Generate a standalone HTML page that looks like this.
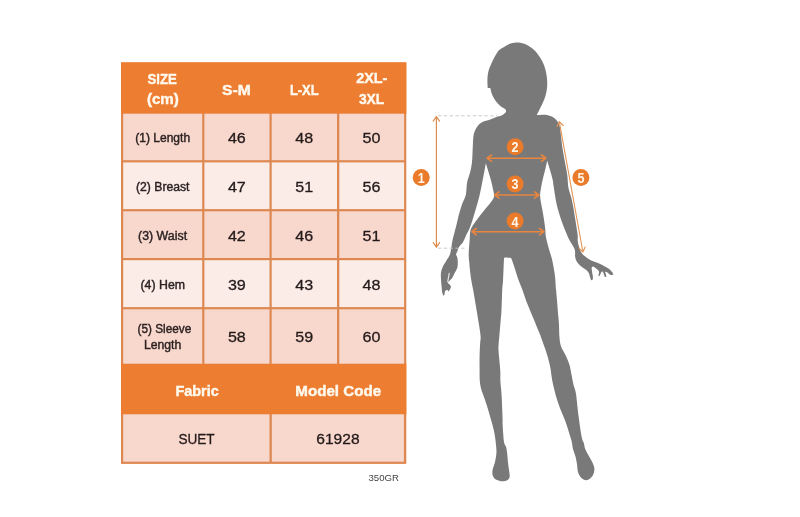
<!DOCTYPE html>
<html lang="en"><head><meta charset="utf-8"><title>Size Chart</title>
<style>html,body{margin:0;padding:0;background:#fff}body{width:800px;height:517px;overflow:hidden}svg{display:block}text{font-family:"Liberation Sans",Arial,sans-serif}.h{font-weight:700;fill:#FFF8EC;stroke:#FFF8EC;stroke-width:.45}.l{fill:#2b2222;stroke:#2b2222;stroke-width:.4}.n{fill:#231a1a;stroke:#231a1a;stroke-width:.3}</style></head><body>
<svg width="800" height="517" viewBox="0 0 800 517">
<rect width="800" height="517" fill="#fff"/>
<rect x="121" y="62.4" width="285.3" height="401.5" fill="#DD8850"/>
<rect x="121" y="62.4" width="285.3" height="51.3" fill="#ED7D31"/>
<rect x="121" y="363.7" width="285.3" height="50.6" fill="#ED7D31"/>
<rect x="123.2" y="113.7" width="79.0" height="46.5" fill="#F8D7CD"/>
<rect x="204.4" y="113.7" width="65.1" height="46.5" fill="#F8D7CD"/>
<rect x="271.7" y="113.7" width="65.3" height="46.5" fill="#F8D7CD"/>
<rect x="339.3" y="113.7" width="64.8" height="46.5" fill="#F8D7CD"/>
<rect x="123.2" y="162.4" width="79.0" height="46.7" fill="#FCECE8"/>
<rect x="204.4" y="162.4" width="65.1" height="46.7" fill="#FCECE8"/>
<rect x="271.7" y="162.4" width="65.3" height="46.7" fill="#FCECE8"/>
<rect x="339.3" y="162.4" width="64.8" height="46.7" fill="#FCECE8"/>
<rect x="123.2" y="211.3" width="79.0" height="46.7" fill="#F8D7CD"/>
<rect x="204.4" y="211.3" width="65.1" height="46.7" fill="#F8D7CD"/>
<rect x="271.7" y="211.3" width="65.3" height="46.7" fill="#F8D7CD"/>
<rect x="339.3" y="211.3" width="64.8" height="46.7" fill="#F8D7CD"/>
<rect x="123.2" y="260.2" width="79.0" height="46.9" fill="#FCECE8"/>
<rect x="204.4" y="260.2" width="65.1" height="46.9" fill="#FCECE8"/>
<rect x="271.7" y="260.2" width="65.3" height="46.9" fill="#FCECE8"/>
<rect x="339.3" y="260.2" width="64.8" height="46.9" fill="#FCECE8"/>
<rect x="123.2" y="309.3" width="79.0" height="54.4" fill="#F8D7CD"/>
<rect x="204.4" y="309.3" width="65.1" height="54.4" fill="#F8D7CD"/>
<rect x="271.7" y="309.3" width="65.3" height="54.4" fill="#F8D7CD"/>
<rect x="339.3" y="309.3" width="64.8" height="54.4" fill="#F8D7CD"/>
<rect x="123.2" y="414.3" width="146.3" height="47.4" fill="#F8D7CD"/>
<rect x="271.8" y="414.3" width="132.1" height="47.4" fill="#F8D7CD"/>
<text class="h" x="147.5" y="83.5" font-size="15.5" textLength="29.3" lengthAdjust="spacingAndGlyphs">SIZE</text>
<text class="h" x="146.9" y="104" font-size="15.5" textLength="32.0" lengthAdjust="spacingAndGlyphs">(cm)</text>
<text class="h" x="222.1" y="94.6" font-size="15.5" textLength="28.7" lengthAdjust="spacingAndGlyphs">S-M</text>
<text class="h" x="289.9" y="94.6" font-size="15.5" textLength="28.7" lengthAdjust="spacingAndGlyphs">L-XL</text>
<text class="h" x="356.2" y="83.4" font-size="15.5" textLength="31.2" lengthAdjust="spacingAndGlyphs">2XL-</text>
<text class="h" x="358.9" y="103.8" font-size="15.5" textLength="25.4" lengthAdjust="spacingAndGlyphs">3XL</text>
<text class="l" x="135.2" y="141.5" font-size="12" textLength="54.9" lengthAdjust="spacingAndGlyphs">(1) Length</text>
<text class="l" x="136.0" y="190.7" font-size="12" textLength="53.5" lengthAdjust="spacingAndGlyphs">(2) Breast</text>
<text class="l" x="138.0" y="239.8" font-size="12" textLength="49.1" lengthAdjust="spacingAndGlyphs">(3) Waist</text>
<text class="l" x="140.5" y="288.5" font-size="12" textLength="44.5" lengthAdjust="spacingAndGlyphs">(4) Hem</text>
<text class="l" x="137.5" y="333.4" font-size="12" textLength="53.8" lengthAdjust="spacingAndGlyphs">(5) Sleeve</text>
<text class="l" x="143.9" y="348.8" font-size="12" textLength="37.4" lengthAdjust="spacingAndGlyphs">Length</text>
<text class="n" x="227.9" y="142.7" font-size="15.5" textLength="17.9" lengthAdjust="spacingAndGlyphs">46</text>
<text class="n" x="295.2" y="142.7" font-size="15.5" textLength="17.9" lengthAdjust="spacingAndGlyphs">48</text>
<text class="n" x="362.6" y="142.7" font-size="15.5" textLength="17.9" lengthAdjust="spacingAndGlyphs">50</text>
<text class="n" x="227.9" y="191.6" font-size="15.5" textLength="17.9" lengthAdjust="spacingAndGlyphs">47</text>
<text class="n" x="295.2" y="191.6" font-size="15.5" textLength="17.9" lengthAdjust="spacingAndGlyphs">51</text>
<text class="n" x="362.6" y="191.6" font-size="15.5" textLength="17.9" lengthAdjust="spacingAndGlyphs">56</text>
<text class="n" x="227.9" y="240.9" font-size="15.5" textLength="17.9" lengthAdjust="spacingAndGlyphs">42</text>
<text class="n" x="295.2" y="240.9" font-size="15.5" textLength="17.9" lengthAdjust="spacingAndGlyphs">46</text>
<text class="n" x="362.6" y="240.9" font-size="15.5" textLength="17.9" lengthAdjust="spacingAndGlyphs">51</text>
<text class="n" x="227.9" y="289.9" font-size="15.5" textLength="17.9" lengthAdjust="spacingAndGlyphs">39</text>
<text class="n" x="295.2" y="289.9" font-size="15.5" textLength="17.9" lengthAdjust="spacingAndGlyphs">43</text>
<text class="n" x="362.6" y="289.9" font-size="15.5" textLength="17.9" lengthAdjust="spacingAndGlyphs">48</text>
<text class="n" x="227.9" y="342" font-size="15.5" textLength="17.9" lengthAdjust="spacingAndGlyphs">58</text>
<text class="n" x="295.2" y="342" font-size="15.5" textLength="17.9" lengthAdjust="spacingAndGlyphs">59</text>
<text class="n" x="362.6" y="342" font-size="15.5" textLength="17.9" lengthAdjust="spacingAndGlyphs">60</text>
<text class="h" x="175.4" y="395.6" font-size="15.5" textLength="43.4" lengthAdjust="spacingAndGlyphs">Fabric</text>
<text class="h" x="295.3" y="395.6" font-size="15.5" textLength="85.9" lengthAdjust="spacingAndGlyphs">Model Code</text>
<text class="n" x="178.4" y="444" font-size="15.2" textLength="36.3" lengthAdjust="spacingAndGlyphs">SUET</text>
<text class="n" x="316.3" y="444.2" font-size="15.2" textLength="43.3" lengthAdjust="spacingAndGlyphs">61928</text>
<text x="368.5" y="480.5" font-size="9" fill="#444" textLength="30.5" lengthAdjust="spacingAndGlyphs">350GR</text>
<path d="M504.8 46.4C506.9 45.2 509.0 43.8 511.6 43.2C514.2 42.5 517.5 42.4 520.3 42.8C523.0 43.2 525.5 44.1 528.0 45.5C530.5 46.9 533.1 48.9 535.4 51.3C537.6 53.7 539.9 57.1 541.6 60.0C543.2 62.9 544.3 65.6 545.2 68.7C546.1 71.7 546.7 75.1 547.0 78.4C547.3 81.6 547.3 85.0 547.0 88.0C546.7 91.1 546.1 94.0 545.2 96.7C544.4 99.5 543.0 102.1 542.0 104.5C540.9 106.9 539.5 109.5 538.7 111.2C537.8 113.0 536.7 115.1 536.7 115.1C536.7 115.1 542.6 114.4 545.1 114.7C547.7 114.9 550.0 115.6 551.9 116.6C553.8 117.6 555.5 118.9 556.8 120.5C558.0 122.1 558.9 123.7 559.7 126.3C560.4 128.9 560.6 132.4 561.0 135.9C561.5 139.5 561.7 143.4 562.4 147.6C563.0 151.7 563.9 156.6 564.7 161.1C565.5 165.6 566.6 170.2 567.2 174.6C567.8 179.0 567.8 183.9 568.4 187.5C569.0 191.2 570.1 193.4 570.9 196.3C571.6 199.3 572.3 202.0 572.9 205.1C573.5 208.3 574.1 211.8 574.6 215.2C575.2 218.5 575.7 221.9 576.2 225.2C576.7 228.6 577.4 232.6 577.7 235.3C577.9 238.0 577.5 239.3 577.8 241.4C578.0 243.5 578.8 246.0 579.4 247.8C579.9 249.5 580.2 250.8 581.0 252.0C581.7 253.3 582.5 254.1 583.6 255.2C584.8 256.3 586.2 257.3 587.9 258.4C589.6 259.5 591.8 260.7 593.7 261.6C595.7 262.5 597.7 262.9 599.6 263.7C601.4 264.5 603.3 265.5 604.9 266.4C606.5 267.3 607.9 268.1 609.1 269.0C610.4 270.0 611.6 271.3 612.3 272.2C613.0 273.1 613.4 274.4 613.4 274.4C613.4 274.4 611.8 275.2 610.7 274.9C609.7 274.5 608.0 272.8 607.0 272.2C606.0 271.7 604.9 271.7 604.9 271.7C604.9 271.7 605.7 273.5 606.0 274.4C606.2 275.2 606.3 277.0 606.3 277.0C606.3 277.0 604.9 277.0 604.9 277.0C604.9 277.0 603.4 272.5 602.8 271.7C602.1 270.9 601.2 272.2 601.2 272.2C601.2 272.2 599.6 276.0 599.6 276.0C599.6 276.0 598.2 275.4 598.2 275.4C598.2 275.4 599.3 272.8 599.0 271.7C598.8 270.6 597.9 269.9 596.9 269.0C595.9 268.2 594.1 266.6 593.2 266.4C592.3 266.2 591.6 268.0 591.6 268.0C591.6 268.0 591.9 270.8 592.1 272.2C592.3 273.7 592.8 275.2 592.9 276.5C593.0 277.7 592.7 279.7 592.7 279.7C592.7 279.7 591.1 280.2 591.1 280.2C591.1 280.2 590.4 278.2 590.0 277.0C589.6 275.9 589.6 274.5 588.9 273.3C588.3 272.1 587.3 271.1 586.3 270.1C585.2 269.1 583.8 268.4 582.6 267.4C581.3 266.5 579.9 265.4 578.8 264.3C577.8 263.1 576.8 261.9 576.2 260.5C575.5 259.2 575.3 257.7 575.1 256.3C574.9 254.9 575.3 253.4 575.1 252.0C574.9 250.6 575.0 249.7 574.0 247.8C573.1 245.8 571.0 243.2 569.5 240.3C568.0 237.4 566.5 233.6 565.1 230.3C563.7 226.9 562.5 223.6 561.3 220.2C560.2 216.9 559.1 213.3 558.2 210.2C557.3 207.0 556.8 204.9 556.1 201.4C555.4 197.8 554.6 192.4 554.0 188.7C553.4 185.0 553.2 182.2 552.5 179.0C551.8 175.8 550.6 172.4 549.8 169.3C548.9 166.3 547.2 160.6 547.2 160.6C547.2 160.6 546.1 166.3 545.3 169.3C544.6 172.4 543.5 175.8 542.8 179.0C542.1 182.2 541.3 185.9 540.9 188.7C540.4 191.4 540.1 193.2 540.1 195.5C540.1 197.7 540.5 199.8 540.9 202.2C541.2 204.6 541.9 207.1 542.4 210.0C542.9 212.9 543.5 216.4 544.0 219.6C544.4 222.9 545.0 226.4 545.3 229.3C545.6 232.2 545.3 233.7 545.9 237.0C546.5 240.3 548.0 245.5 549.0 249.2C550.0 252.8 551.1 255.6 551.9 258.8C552.7 262.1 553.3 265.3 553.8 268.5C554.4 271.7 554.9 274.9 555.2 278.2C555.5 281.4 555.6 285.9 555.8 287.8C555.9 289.8 555.9 287.7 556.1 290.0C556.3 292.3 556.8 297.7 557.1 301.6C557.4 305.5 557.7 309.3 558.0 313.2C558.4 317.1 558.8 320.9 559.0 324.8C559.2 328.7 559.1 332.9 559.4 336.4C559.7 340.0 559.9 342.9 560.9 346.1C562.0 349.3 564.3 352.5 565.8 355.8C567.2 359.0 568.7 362.2 569.7 365.4C570.6 368.7 570.9 371.9 571.6 375.1C572.2 378.3 572.8 381.8 573.5 384.8C574.2 387.7 575.3 389.8 575.8 392.7C576.4 395.7 576.6 399.2 577.0 402.4C577.4 405.6 577.6 408.9 578.0 412.1C578.4 415.3 578.9 418.5 579.3 421.8C579.8 425.0 580.2 428.5 580.7 431.4C581.2 434.3 581.7 437.2 582.2 439.2C582.7 441.1 583.3 441.4 583.8 443.0C584.3 444.6 584.4 446.9 585.1 448.8C585.8 450.8 586.9 452.5 588.0 454.6C589.2 456.7 590.9 459.3 591.9 461.4C592.9 463.5 593.9 465.3 594.2 467.2C594.5 469.1 594.4 471.2 593.8 473.0C593.3 474.8 592.2 476.7 590.9 477.8C589.6 479.0 587.7 480.2 586.1 480.2C584.5 480.2 582.6 479.2 581.3 477.8C579.9 476.5 578.7 474.3 578.0 472.0C577.3 469.8 577.4 466.9 577.0 464.3C576.6 461.7 576.1 459.1 575.5 456.6C574.8 454.0 573.6 451.4 572.9 448.8C572.3 446.3 572.3 444.0 571.6 441.1C570.9 438.2 569.8 435.0 568.7 431.4C567.6 427.9 566.3 423.7 564.8 419.8C563.4 415.9 561.4 412.1 560.0 408.2C558.5 404.3 557.2 400.5 556.1 396.6C555.0 392.7 554.0 388.3 553.2 385.0C552.5 381.7 552.1 380.0 551.7 377.0C551.2 374.1 551.0 370.9 550.3 367.4C549.6 363.8 548.5 359.6 547.4 355.8C546.3 351.9 545.0 348.2 543.5 344.2C542.1 340.1 540.3 335.8 538.7 331.6C537.1 327.4 533.5 318.2 533.9 319.0C534.2 319.8 540.5 335.5 540.9 336.4C541.3 337.4 537.7 328.7 536.1 324.8C534.5 320.9 532.8 317.1 531.2 313.2C529.6 309.3 527.9 305.5 526.4 301.6C525.0 297.7 523.9 293.6 522.5 290.0C521.2 286.4 519.8 283.5 518.5 280.0C517.2 276.5 516.1 272.5 515.0 269.0C513.9 265.5 512.4 261.1 511.6 259.2C510.9 257.3 510.5 257.9 510.5 257.9C510.5 257.9 505.0 257.6 505.0 257.6C505.0 257.6 504.2 256.9 504.0 259.0C503.8 261.1 503.7 266.3 503.5 270.0C503.3 273.7 503.2 277.7 503.0 281.0C502.8 284.3 502.4 286.6 502.2 290.0C502.0 293.4 502.0 297.7 501.8 301.6C501.7 305.5 501.5 309.3 501.3 313.2C501.0 317.1 500.6 320.9 500.3 324.8C500.0 328.7 499.6 332.6 499.3 336.4C499.0 340.3 498.4 344.2 498.4 348.0C498.4 351.9 499.0 355.8 499.3 359.6C499.6 363.5 500.1 367.7 500.3 371.2C500.5 374.8 500.2 377.3 500.4 381.1C500.6 384.8 501.2 389.6 501.5 393.8C501.8 398.1 502.0 402.3 502.1 406.6C502.3 410.9 502.5 416.5 502.6 419.4C502.6 422.2 502.5 421.4 502.6 423.7C502.7 426.0 502.9 430.1 503.2 433.4C503.4 436.6 503.7 440.8 504.2 443.0C504.6 445.3 505.6 445.3 506.1 446.9C506.6 448.5 506.7 450.1 507.1 452.7C507.4 455.3 507.7 459.5 508.0 462.4C508.3 465.3 508.7 467.7 509.0 470.1C509.3 472.5 509.9 475.2 509.6 476.9C509.3 478.6 508.3 479.4 507.1 480.2C505.8 480.9 504.0 481.4 502.2 481.3C500.5 481.3 498.0 480.7 496.4 479.8C494.9 478.9 493.6 477.5 492.9 475.9C492.3 474.3 492.2 472.4 492.6 470.1C492.9 467.8 494.2 465.3 494.9 462.4C495.5 459.5 496.3 455.9 496.4 452.7C496.6 449.5 496.2 446.6 495.8 443.0C495.5 439.5 494.9 435.3 494.1 431.4C493.3 427.6 492.1 423.7 491.0 419.8C489.9 415.9 488.9 412.1 487.7 408.2C486.5 404.3 484.9 399.7 483.8 396.6C482.8 393.5 482.0 392.2 481.3 389.6C480.6 387.0 480.1 384.6 479.8 381.1C479.5 377.5 479.6 372.6 479.6 368.3C479.5 364.0 479.5 359.8 479.6 355.5C479.7 351.3 480.0 346.0 480.2 342.8C480.4 339.6 480.8 339.4 480.6 336.4C480.4 333.4 479.6 328.7 479.0 324.8C478.4 320.9 477.7 317.1 477.1 313.2C476.4 309.3 475.8 305.5 475.1 301.6C474.5 297.7 473.8 293.3 473.2 290.0C472.6 286.7 472.1 285.0 471.6 282.0C471.1 279.1 470.6 275.6 470.2 272.4C469.8 269.1 469.5 265.9 469.3 262.7C469.0 259.5 468.6 257.0 468.7 253.0C468.8 249.1 469.5 242.6 469.7 239.0C470.0 235.3 469.9 233.3 470.3 231.2C470.7 229.1 471.1 228.3 472.2 226.4C473.4 224.5 475.3 222.1 477.1 219.6C478.9 217.2 480.9 214.3 482.9 211.9C484.8 209.5 487.0 207.2 488.7 205.1C490.4 203.0 492.0 200.9 492.9 199.3C493.8 197.7 494.1 197.2 494.1 195.5C494.1 193.7 493.5 191.4 492.9 188.7C492.4 185.9 491.5 182.2 490.6 179.0C489.7 175.8 488.5 172.0 487.7 169.3C486.9 166.7 485.8 163.2 485.8 163.2C485.8 163.2 485.0 168.3 484.4 171.3C483.9 174.2 483.1 177.7 482.5 180.9C481.9 184.2 481.2 187.6 480.6 190.6C479.9 193.7 479.4 196.4 478.6 199.3C477.9 202.2 477.0 205.0 476.1 208.0C475.2 211.1 474.2 214.5 473.2 217.7C472.2 220.9 471.1 224.5 469.9 227.4C468.8 230.3 467.4 232.6 466.2 235.1C465.1 237.6 464.0 240.5 462.8 242.5C461.6 244.4 459.9 245.4 459.0 247.0C458.1 248.5 457.7 250.3 457.3 251.6C456.8 252.9 456.1 253.5 456.1 254.5C456.1 255.5 457.0 256.1 457.3 257.4C457.6 258.7 457.8 260.3 457.8 262.0C457.8 263.8 457.8 265.9 457.3 267.8C456.7 269.8 455.2 271.9 454.4 273.6C453.5 275.4 453.1 276.8 452.0 278.3C451.0 279.7 448.5 281.4 448.0 282.3C447.5 283.3 448.7 283.4 449.1 284.1C449.6 284.8 450.7 285.6 450.9 286.4C451.1 287.2 450.7 287.9 450.3 288.7C449.9 289.6 448.6 291.6 448.6 291.6C448.6 291.6 448.0 290.0 447.4 289.9C446.8 289.8 445.6 290.3 445.1 291.0C444.6 291.8 444.8 293.8 444.5 294.5C444.2 295.3 443.3 295.7 443.3 295.7C443.3 295.7 442.5 293.8 442.2 292.2C441.9 290.7 441.8 288.5 441.6 286.4C441.4 284.3 441.1 281.8 441.0 279.4C440.9 277.1 440.7 274.6 441.0 272.5C441.3 270.4 441.9 268.6 442.8 266.7C443.6 264.7 445.1 262.8 446.2 260.9C447.4 258.9 448.9 257.4 449.7 255.1C450.6 252.8 451.0 249.5 451.5 247.0C451.9 244.4 451.8 243.8 452.6 240.0C453.5 236.2 455.6 228.3 456.7 224.0C457.8 219.7 458.1 217.6 459.0 214.3C459.9 211.1 460.8 207.9 461.9 204.7C463.0 201.4 464.9 198.7 465.8 195.0C466.6 191.3 466.4 186.1 467.1 182.4C467.8 178.7 469.2 175.9 470.0 172.7C470.8 169.5 471.5 166.3 471.9 163.0C472.3 159.8 472.3 156.6 472.5 153.4C472.7 150.1 472.7 146.9 472.9 143.7C473.1 140.5 473.2 136.8 473.8 134.0C474.5 131.3 475.5 129.2 476.8 127.2C478.0 125.3 479.3 123.7 481.6 122.4C483.8 121.1 487.8 120.4 490.3 119.5C492.8 118.6 494.6 117.6 496.5 117.0C498.3 116.3 499.9 116.4 501.5 115.6C503.1 114.8 506.0 111.9 506.0 111.9C506.0 111.9 506.2 110.1 505.4 109.2C504.6 108.3 502.5 107.7 500.9 106.4C499.4 105.1 497.6 103.5 496.1 101.6C494.7 99.6 493.2 97.1 492.2 94.8C491.3 92.5 490.3 88.0 490.3 88.0C490.3 88.0 487.8 88.0 487.8 88.0C487.8 88.0 487.3 83.0 487.4 80.3C487.5 77.5 487.7 74.3 488.4 71.6C489.0 68.8 490.1 66.4 491.3 63.8C492.4 61.3 493.9 58.4 495.1 56.1C496.4 53.9 497.4 51.9 499.0 50.3C500.6 48.7 502.7 47.6 504.8 46.4Z" fill="#797979"/>
<path d="M449.3 273.2L447.7 281.6" stroke="#fff" stroke-width="1.1" stroke-linecap="round" opacity=".85"/>
<path d="M438 115.8H497M438 248.2H466" stroke="#C6C6C6" stroke-width=".9" stroke-dasharray="3.4 2.4" fill="none"/>
<path d="M436.4 116.6L436.4 247.2M433.2 121.1L436.4 116.6L439.6 121.1M433.2 242.7L436.4 247.2L439.6 242.7" stroke="#DD8A4C" stroke-width="1.15" fill="none" stroke-linecap="round" stroke-linejoin="round"/>
<path d="M487.0 158.2L546.0 158.2M491.5 161.4L487.0 158.2L491.5 155.0M541.5 161.4L546.0 158.2L541.5 155.0" stroke="#E8853F" stroke-width="1.55" fill="none" stroke-linecap="round" stroke-linejoin="round"/>
<path d="M494.6 195.0L539.0 195.0M499.1 198.2L494.6 195.0L499.1 191.8M534.5 198.2L539.0 195.0L534.5 191.8" stroke="#E8853F" stroke-width="1.55" fill="none" stroke-linecap="round" stroke-linejoin="round"/>
<path d="M471.8 231.7L544.0 231.7M476.3 234.9L471.8 231.7L476.3 228.5M539.5 234.9L544.0 231.7L539.5 228.5" stroke="#E8853F" stroke-width="1.55" fill="none" stroke-linecap="round" stroke-linejoin="round"/>
<path d="M559.3 121.6L582.9 252.0M557.0 126.6L559.3 121.6L563.3 125.5M578.9 248.1L582.9 252.0L585.2 247.0" stroke="#E29457" stroke-width="1.1" fill="none" stroke-linecap="round" stroke-linejoin="round"/>
<circle cx="421.2" cy="177.6" r="8.5" fill="#EA7B2B"/>
<text x="417.7" y="183.0" font-size="15" font-weight="700" fill="#FFF6EA" textLength="7" lengthAdjust="spacingAndGlyphs">1</text>
<circle cx="515.1" cy="146.7" r="8.5" fill="#EA7B2B"/>
<text x="511.6" y="152.1" font-size="15" font-weight="700" fill="#FFF6EA" textLength="7" lengthAdjust="spacingAndGlyphs">2</text>
<circle cx="515.1" cy="184" r="8.5" fill="#EA7B2B"/>
<text x="511.6" y="189.4" font-size="15" font-weight="700" fill="#FFF6EA" textLength="7" lengthAdjust="spacingAndGlyphs">3</text>
<circle cx="515.1" cy="221.1" r="8.5" fill="#EA7B2B"/>
<text x="511.6" y="226.5" font-size="15" font-weight="700" fill="#FFF6EA" textLength="7" lengthAdjust="spacingAndGlyphs">4</text>
<circle cx="580.9" cy="177.5" r="8.5" fill="#EA7B2B"/>
<text x="577.4" y="182.9" font-size="15" font-weight="700" fill="#FFF6EA" textLength="7" lengthAdjust="spacingAndGlyphs">5</text>
</svg></body></html>
